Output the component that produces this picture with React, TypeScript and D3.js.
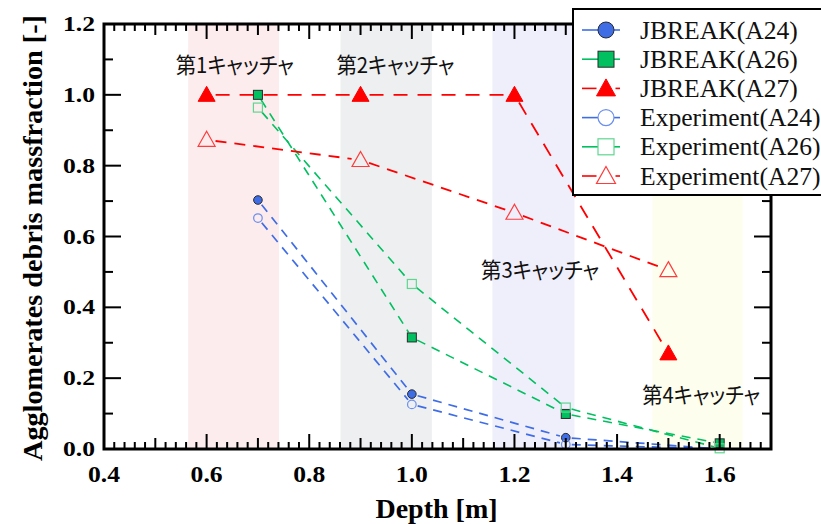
import React from "react";
import * as d3 from "d3";

const W = 821;
const H = 524;

// Data
const depthA24 = [0.7, 1.0, 1.3, 1.6];
const jbreakA24 = [0.703, 0.155, 0.032, 0.0];
const expA24 = [0.652, 0.126, 0.013, 0.0];
const depthA26 = [0.7, 1.0, 1.3, 1.6];
const jbreakA26 = [1.0, 0.315, 0.099, 0.016];
const expA26 = [0.964, 0.466, 0.117, 0.002];
const depthA27 = [0.6, 0.9, 1.2, 1.5];
const jbreakA27 = [1.0, 1.0, 1.0, 0.27];
const expA27 = [0.873, 0.816, 0.667, 0.505];

const catcherBands = [
  [0.564, 0.741],
  [0.861, 1.039],
  [1.157, 1.317],
  [1.469, 1.645],
];
const bandColors = ["#fdeced", "#eeeff1", "#efeefb", "#fefeee"];
const catcherLabels = ["第1キャッチャ", "第2キャッチャ", "第3キャッチャ", "第4キャッチャ"];
const catcherLabelPos = [
  [0.54, 1.09],
  [0.853, 1.09],
  [1.135, 0.51],
  [1.449, 0.157],
];

const xTickValues = [0.4, 0.6, 0.8, 1.0, 1.2, 1.4, 1.6];
const yTickValues = [0.0, 0.2, 0.4, 0.6, 0.8, 1.0, 1.2];

const seriesNames = [
  "JBREAK(A24)",
  "JBREAK(A26)",
  "JBREAK(A27)",
  "Experiment(A24)",
  "Experiment(A26)",
  "Experiment(A27)",
];

const BLUE = "#3f6de6";
const BLUE_L = "#6b8ff0";
const GREEN = "#00c060";
const GREEN_L = "#5fd690";
const RED = "#ff0000";
const RED_L = "#ff3b3b";

type Series = {
  name: string;
  x: number[];
  y: number[];
  shape: "circle" | "square" | "triangle";
  filled: boolean;
  color: string;
  mcolor: string;
  dash: string;
  lw: number;
};

const series: Series[] = [
  { name: seriesNames[0], x: depthA24, y: jbreakA24, shape: "circle", filled: true, color: BLUE, mcolor: BLUE, dash: "9,7", lw: 1.7 },
  { name: seriesNames[1], x: depthA26, y: jbreakA26, shape: "square", filled: true, color: GREEN, mcolor: GREEN, dash: "9,7", lw: 1.6 },
  { name: seriesNames[2], x: depthA27, y: jbreakA27, shape: "triangle", filled: true, color: RED, mcolor: RED, dash: "14,10", lw: 1.8 },
  { name: seriesNames[3], x: depthA24, y: expA24, shape: "circle", filled: false, color: BLUE, mcolor: BLUE_L, dash: "9,7", lw: 1.7 },
  { name: seriesNames[4], x: depthA26, y: expA26, shape: "square", filled: false, color: GREEN, mcolor: GREEN_L, dash: "9,7", lw: 1.6 },
  { name: seriesNames[5], x: depthA27, y: expA27, shape: "triangle", filled: false, color: RED, mcolor: RED_L, dash: "11,8", lw: 1.8 },
];

const L = 104, R = 771, T = 24, B = 449;
const x = d3.scaleLinear().domain([0.4, 1.7]).range([L, R]);
const y = d3.scaleLinear().domain([0, 1.2]).range([B, T]);

const SERIF = '"Liberation Serif"';
const CJK = '"Noto Sans CJK JP"';

function Marker({ cx, cy, shape, filled, color, big }: any) {
  const fill = filled ? color : "none";
  const stroke = filled ? (shape === "triangle" ? color : "#2a2a2a") : color;
  const sw = filled ? 1 : 1.2;
  if (shape === "circle") {
    const r = big ? 8 : 4.3;
    return <circle cx={cx} cy={cy} r={r} fill={fill} stroke={stroke} strokeWidth={sw} />;
  }
  if (shape === "square") {
    const a = big ? 16 : 9;
    return <rect x={cx - a / 2} y={cy - a / 2} width={a} height={a} fill={fill} stroke={stroke} strokeWidth={sw} />;
  }
  const w = big ? 19 : 17;
  const h = big ? 17 : 15;
  const c = cy - 1;
  const p = `M${cx},${c - h / 2}L${cx + w / 2},${c + h / 2}L${cx - w / 2},${c + h / 2}Z`;
  return <path d={p} fill={fill} stroke={stroke} strokeWidth={sw} strokeLinejoin="miter" />;
}

function segments(s: Series, gap: number) {
  const out: any[] = [];
  for (let i = 0; i < s.x.length - 1; i++) {
    const x1 = x(s.x[i]), y1 = y(s.y[i]), x2 = x(s.x[i + 1]), y2 = y(s.y[i + 1]);
    const len = Math.hypot(x2 - x1, y2 - y1);
    const ux = (x2 - x1) / len, uy = (y2 - y1) / len;
    out.push(
      <line
        key={s.name + i}
        x1={x1 + ux * gap}
        y1={y1 + uy * gap}
        x2={x2 - ux * gap}
        y2={y2 - uy * gap}
        stroke={s.color}
        strokeWidth={s.lw}
        strokeDasharray={s.dash}
      />
    );
  }
  return out;
}

export default function App() {
  const xMinor = d3.range(0, 66).map((i) => ({ v: 0.4 + i * 0.02, i }));
  const yMinor = d3.range(0, 13).map((i) => ({ v: i * 0.1, i }));
  return (
    <svg width={W} height={H} style={{ position: "absolute", left: 0, top: 0, background: "#fff" }}>
      {catcherBands.map((b, i) => (
        <rect key={i} x={x(b[0])} y={T} width={x(b[1]) - x(b[0])} height={B - T} fill={bandColors[i]} />
      ))}
      {catcherLabels.map((t, i) => (
        <text
          key={t}
          x={x(catcherLabelPos[i][0])}
          y={y(catcherLabelPos[i][1])}
          dominantBaseline="central"
          fontSize={22}
          textLength={118}
          lengthAdjust="spacingAndGlyphs"
          style={{ fontFamily: CJK, fontFeatureSettings: '"palt"' }}
          fill="#111"
        >
          {t}
        </text>
      ))}
      {series.map((s) => segments(s, s.shape === "triangle" ? 9 : 6))}
      {series.map((s) =>
        s.x.map((v, i) =>
          s.shape === "circle" && s.y[i] <= 0 ? null : (
            <Marker key={s.name + "m" + i} cx={x(v)} cy={y(s.y[i])} shape={s.shape} filled={s.filled} color={s.mcolor} />
          )
        )
      )}
      <g stroke="#000" strokeWidth={2}>
        {xMinor.map(({ v, i }) => {
          const len = i % 10 === 0 ? 15 : i % 5 === 0 ? 11 : 7;
          const px = x(v);
          return (
            <g key={"xt" + i}>
              <line x1={px} x2={px} y1={B} y2={B - len} />
              <line x1={px} x2={px} y1={T} y2={T + len} />
            </g>
          );
        })}
        {yMinor.map(({ v, i }) => {
          const len = i % 2 === 0 ? 17 : 9;
          const py = y(v);
          return (
            <g key={"yt" + i}>
              <line x1={L} x2={L + len} y1={py} y2={py} />
              <line x1={R} x2={R - len} y1={py} y2={py} />
            </g>
          );
        })}
      </g>
      <rect x={L} y={T} width={R - L} height={B - T} fill="none" stroke="#000" strokeWidth={3} />
      {xTickValues.map((v) => (
        <text
          key={"xl" + v}
          x={x(v)}
          y={482}
          textAnchor="middle"
          fontWeight="bold"
          fontSize={23}
          textLength={32}
          lengthAdjust="spacingAndGlyphs"
          style={{ fontFamily: SERIF }}
          fill="#000"
        >
          {d3.format(".1f")(v)}
        </text>
      ))}
      {yTickValues.map((v) => (
        <text
          key={"yl" + v}
          x={95}
          y={y(v)}
          textAnchor="end"
          dominantBaseline="central"
          fontWeight="bold"
          fontSize={21}
          textLength={32}
          lengthAdjust="spacingAndGlyphs"
          style={{ fontFamily: SERIF }}
          fill="#000"
        >
          {d3.format(".1f")(v)}
        </text>
      ))}
      <text x={436.5} y={518} textAnchor="middle" fontWeight="bold" fontSize={28} style={{ fontFamily: SERIF }} fill="#000">
        Depth [m]
      </text>
      <text
        transform={`translate(42,238) rotate(-90)`}
        textAnchor="middle"
        fontWeight="bold"
        fontSize={28}
        textLength={446}
        lengthAdjust="spacingAndGlyphs"
        style={{ fontFamily: SERIF }}
        fill="#000"
      >
        Agglomerates debris massfraction [-]
      </text>
      <g>
        <rect x={573} y={9} width={260} height={186} fill="#fff" stroke="#000" strokeWidth={2} />
        {series.map((s, i) => {
          const cy = 30 + i * 29.2;
          const half = s.shape === "triangle" ? 9.5 : 8;
          return (
            <g key={"lg" + i}>
              <line x1={582} x2={606 - half} y1={cy} y2={cy} stroke={s.color} strokeWidth={1.6} />
              <line x1={606 + half} x2={620} y1={cy} y2={cy} stroke={s.color} strokeWidth={1.6} />
              <Marker cx={606} cy={cy} shape={s.shape} filled={s.filled} color={s.mcolor} big />
              <text x={640} y={cy} dominantBaseline="central" fontSize={25.6} style={{ fontFamily: SERIF }} fill="#111">
                {s.name}
              </text>
            </g>
          );
        })}
      </g>
    </svg>
  );
}
